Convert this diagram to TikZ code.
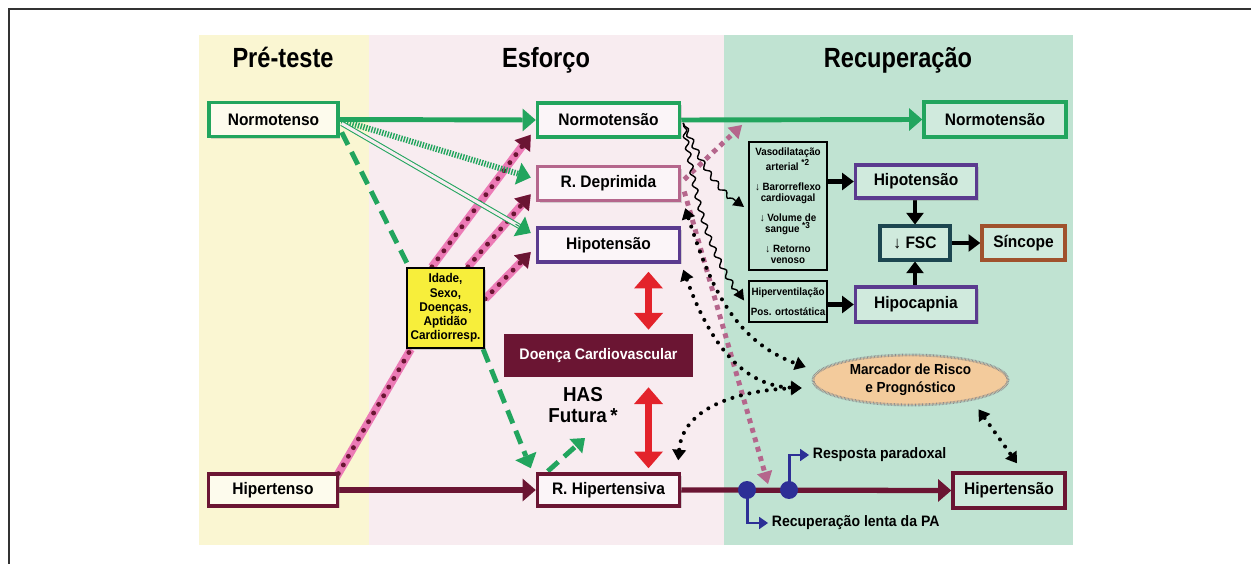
\documentclass[tikz,border=0pt]{standalone}
\usepackage{fontspec}
\setmainfont{Liberation Sans}
\newfontfamily\lblfont[FakeStretch=0.93]{Liberation Sans}
\newfontfamily\ttlfont[FakeStretch=0.85]{Liberation Sans}
\usetikzlibrary{arrows.meta,calc,shapes.geometric,decorations.pathmorphing,shadows}
\pgfdeclarelayer{bg}
\pgfdeclarelayer{mid}
\pgfsetlayers{bg,mid,main}
\definecolor{bgY}{HTML}{FAF6D2}
\definecolor{bgP}{HTML}{F8ECF0}
\definecolor{bgG}{HTML}{C0E3D2}
\definecolor{grn}{HTML}{22A55E}
\definecolor{maroon}{HTML}{6B1533}
\definecolor{mauve}{HTML}{B5668C}
\definecolor{purp}{HTML}{5B3B8F}
\definecolor{pinkl}{HTML}{EC7BB6}
\definecolor{redA}{HTML}{E3232B}
\definecolor{yel}{HTML}{F7EE3B}
\definecolor{peach}{HTML}{F3CB9C}
\definecolor{tealb}{HTML}{1C4650}
\definecolor{brn}{HTML}{A0522D}
\definecolor{blu}{HTML}{2D2F96}

\begin{document}
\begin{tikzpicture}[x=0.02cm,y=-0.02cm,
  lbl/.style={font=\lblfont\bfseries\fontsize{9.5}{11}\selectfont},
  box/.style={lbl, draw, line width=2pt, minimum width=2.84cm, minimum height=0.68cm,
    inner sep=0pt, drop shadow={shadow xshift=1.3pt,shadow yshift=-1.3pt,opacity=.3}},
  prebox/.style={box, fill=white!60!bgY, minimum width=2.58cm},
  esfbox/.style={box, fill=white!50!bgP},
  recbox/.style={box, fill=white!25!bgG, minimum width=2.42cm, minimum height=0.67cm},
  cause/.style={draw, line width=1.1pt, fill=bgG, align=center, inner sep=0pt,
    minimum width=1.56cm, font=\lblfont\bfseries\fontsize{6}{6.4}\selectfont},
  phase/.style={anchor=base, font=\ttlfont\bfseries\fontsize{15.8}{18}\selectfont},
  gline/.style={draw=grn, line width=2.8pt, -{Triangle[length=7.5pt,width=13pt,line width=0pt]}},
  ghatch/.style={gline, line width=3.4pt, dash pattern=on 0.8pt off 0.8pt},
  gdouble/.style={draw=grn, line width=0.6pt, double=bgP, double distance=1.8pt},
  gdash/.style={gline, dash pattern=on 8pt off 4.5pt},
  pband/.style={draw=pinkl, line width=4.6pt,
    postaction={draw=maroon, line width=2.8pt, dash pattern=on 0pt off 5.7pt, line cap=round}},
  ptip/.style={-{Triangle[length=8pt,width=11pt,line width=0pt]}},
  mline/.style={draw=maroon, line width=3pt, -{Triangle[length=7.5pt,width=13pt,line width=0pt]}},
  mdots/.style={draw=mauve, line width=2.8pt, dash pattern=on 2.8pt off 2.8pt,
    -{Triangle[length=7pt,width=9pt,line width=0pt]}},
  kwave/.style={draw, line width=0.8pt, decorate,
    decoration={snake, amplitude=1.3pt, segment length=7pt, pre length=2pt, post length=6pt},
    -{Triangle[length=6pt,width=6.5pt,line width=0pt]}},
  kdots/.style={line width=2.3pt, dash pattern=on 0pt off 5pt, line cap=round,
    {Triangle[length=6pt,width=8pt,line width=0pt]}-{Triangle[length=6pt,width=8pt,line width=0pt]}},
  karr/.style={line width=2.8pt, -{Triangle[length=6.6pt,width=10pt,line width=0pt]}},
  rarr/.style={draw=redA, line width=4pt,
    {Triangle[length=9.5pt,width=16.5pt,line width=0pt]}-{Triangle[length=9.5pt,width=16.5pt,line width=0pt]}},
  barr/.style={draw=blu, line width=1.7pt, -{Triangle[length=5pt,width=7pt,line width=0pt]}},
  bdot/.style={circle, fill=blu, inner sep=0pt, minimum size=0.36cm},
  note/.style={anchor=west, inner sep=2pt, font=\lblfont\bfseries\fontsize{8.6}{10}\selectfont}]

  \useasboundingbox (0,0) rectangle (1251,564);
  \begin{pgfonlayer}{bg}
    \fill[bgY] (199,35) rectangle (369,545);
    \fill[bgP] (369,35) rectangle (724,545);
    \fill[bgG] (724,35) rectangle (1073,545);
  \end{pgfonlayer}
  \draw[black!80, line width=0.6pt] (9,564) -- (9,9) -- (1251,9);

  \node[phase] (tpre) at (283,68) {Pré-teste};
  \node[phase] (tesf) at (546,68) {Esforço};
  \node[phase] (trec) at (898,68) {Recuperação};

  \node[prebox, draw=grn] (normo) at (273.5,119.5) {Normotenso};
  \node[prebox, draw=maroon, minimum height=0.64cm] (hiper) at (273,490) {Hipertenso};
  \node[esfbox, draw=grn] (normoE) at (608.5,120) {Normotensão};
  \node[esfbox, draw=mauve] (rdep) at (608.5,183.5) {R. Deprimida};
  \node[esfbox, draw=purp] (hipoE) at (608.5,245) {Hipotensão};
  \node[esfbox, draw=maroon, minimum height=0.64cm] (rhip) at (608.5,490) {R. Hipertensiva};
  \node[recbox, draw=grn, minimum width=2.84cm, minimum height=0.7cm] (normoR) at (995,119.5) {Normotensão};
  \node[recbox, draw=purp] (hipoR) at (916,181.5) {Hipotensão};
  \node[recbox, draw=tealb, minimum width=1.4cm] (fsc) at (915,243) {↓ FSC};
  \node[recbox, draw=brn, minimum width=1.66cm] (sinc) at (1023.5,243) {Síncope};
  \node[recbox, draw=purp, minimum height=0.7cm] (hipoc) at (916,304.5) {Hipocapnia};
  \node[recbox, draw=maroon, minimum width=2.24cm, minimum height=0.7cm] (hipR) at (1009,490.5) {Hipertensão};

  \node[cause, minimum height=2.56cm] (vaso) at (788,206) {Vasodilatação\\arterial \textsuperscript{*2}\\[5pt]↓ Barorreflexo\\cardiovagal\\[5pt]↓ Volume de\\sangue \textsuperscript{*3}\\[5pt]↓ Retorno\\venoso};
  \node[cause, minimum height=0.82cm] (hyv) at (788,301.5) {Hiperventilação\\[5pt]Pos. ortostática};

  \node[draw, line width=1.3pt, fill=yel, align=center, inner sep=0pt, minimum width=1.54cm,
    minimum height=1.6cm, font=\lblfont\bfseries\fontsize{7.2}{8.1}\selectfont,
    drop shadow={shadow xshift=1.2pt,shadow yshift=-1.2pt,opacity=.3}] (fat) at (445.5,308)
    {Idade,\\Sexo,\\Doenças,\\Aptidão\\Cardiorresp.};
  \node[fill=maroon, text=white, minimum width=3.78cm, minimum height=0.86cm, inner sep=0pt,
    font=\lblfont\bfseries\fontsize{8.7}{10}\selectfont] (doenca) at (598.5,355.5) {Doença Cardiovascular};
  \node[align=center, inner sep=0pt, font=\lblfont\bfseries\fontsize{11.5}{11.5}\selectfont] (has) at (583,405) {HAS\\Futura\,*};
  \coordinate (hasend) at (585,438);

  \node[ellipse, fill=peach, draw=black!45, line width=1.6pt, dash pattern=on 0.35pt off 0.45pt,
    minimum width=3.9cm, minimum height=1cm, inner sep=0pt, align=center,
    font=\lblfont\bfseries\fontsize{8.3}{10}\selectfont] (marc) at (910.5,380) {Marcador de Risco\\e Prognóstico};

  \node[bdot] (bd1) at (747,490) {};
  \node[bdot] (bd2) at (789,490) {};
  \node[note] (parad) at (809,455) {Resposta paradoxal};
  \node[note] (lenta) at (768,523) {Recuperação lenta da PA};
  \coordinate (mup) at (742,125);
  \coordinate (mdn) at ($(bd1)!.5!(bd2)+(0,-6)$);

  \begin{pgfonlayer}{mid}
    \draw[pband] ($(hiper.north east)+(-6,10)$) -- ($(fat.south west)+(5,0)$);
    \draw[pband, ptip] ($(fat.north west)+(26,0)$) -- ($(normoE.south west)+(-5,-4)$);
    \draw[pband, ptip] ($(fat.north west)+(62,0)$) -- ($(rdep.south west)+(-5,-8)$);
    \draw[pband, ptip] ($(fat.north east)+(0,32)$) -- ($(hipoE.west)+(-5,7)$);

    \draw[gline] (normo.east) -- (normoE.west);
    \draw[gline] (normoE.east) -- (normoR.west);
    \draw[ghatch] ($(normo.east)+(2,1)$) -- ($(rdep.west)+(-5,-6)$);
    \coordinate (d0) at ($(normo.east)+(2,4)$);
    \coordinate (d1) at ($(hipoE.west)+(-5,-12)$);
    \draw[gdouble, shorten >=6pt] (d0) -- (d1);
    \draw[gline, line width=0.6pt] ($(d1)!10pt!(d0)$) -- (d1);
    \draw[gdash] ($(normo.south east)+(2,-6)$) -- ($(fat.north west)+(3,0)$)
      ($(fat.south east)+(-2,0)$) -- ($(rhip.north west)+(-5,-4)$);
    \draw[gdash, -{Triangle[length=7pt,width=11pt,line width=0pt]}] ($(rhip.north west)+(12,-1)$) -- (hasend);

    \draw[rarr] ($(hipoE.south -| doenca.north)+(50,8)$) -- ($(doenca.north)+(50,-4)$);
    \draw[rarr] ($(doenca.south)+(50,10)$) -- ($(rhip.north -| doenca.south)+(50,-4)$);

    \draw[mline] (hiper.east) -- (rhip.west);
    \draw[mline] (rhip.east) -- (hipR.west);

    \draw[mdots] ($(rdep.east)+(3,-4)$) -- (mup);
    \draw[mdots] ($(rdep.east)+(3,8)$) -- (mdn);

    \draw[kwave] ($(normoE.east)+(2,3)$) to[out=-65,in=145] ($(vaso.west)+(-4,1)$);
    \draw[kwave] ($(normoE.east)+(2,3)$) to[out=-80,in=125] ($(hyv.west)+(-4,-1)$);

    \draw[kdots] ($(rdep.south east)+(4,6)$) to[out=-72,in=160] ($(marc.west)+(-6,-13)$);
    \draw[kdots] ($(hipoE.south east)+(2,6)$) to[out=-70,in=178] ($(marc.west)+(-10,8)$);
    \draw[kdots] ($(rhip.north east)+(-3,-12)$) to[out=85,in=182] ($(marc.west)+(-10,8)$);
    \draw[kdots] ($(marc.south)+(68,3)$) -- ($(hipR.north)+(8,-8)$);

    \draw[karr] (vaso.east |- hipoR.west) -- (hipoR.west);
    \draw[karr] (hyv.east |- hipoc.west) -- (hipoc.west);
    \draw[karr] (fsc.north |- hipoR.south) -- (fsc.north);
    \draw[karr] (fsc.south |- hipoc.north) -- (fsc.south);
    \draw[karr] (fsc.east) -- (sinc.west);

    \draw[barr] (bd2.center) |- (parad.west);
    \draw[barr] (bd1.center) |- (lenta.west);
  \end{pgfonlayer}
\end{tikzpicture}
\end{document}
